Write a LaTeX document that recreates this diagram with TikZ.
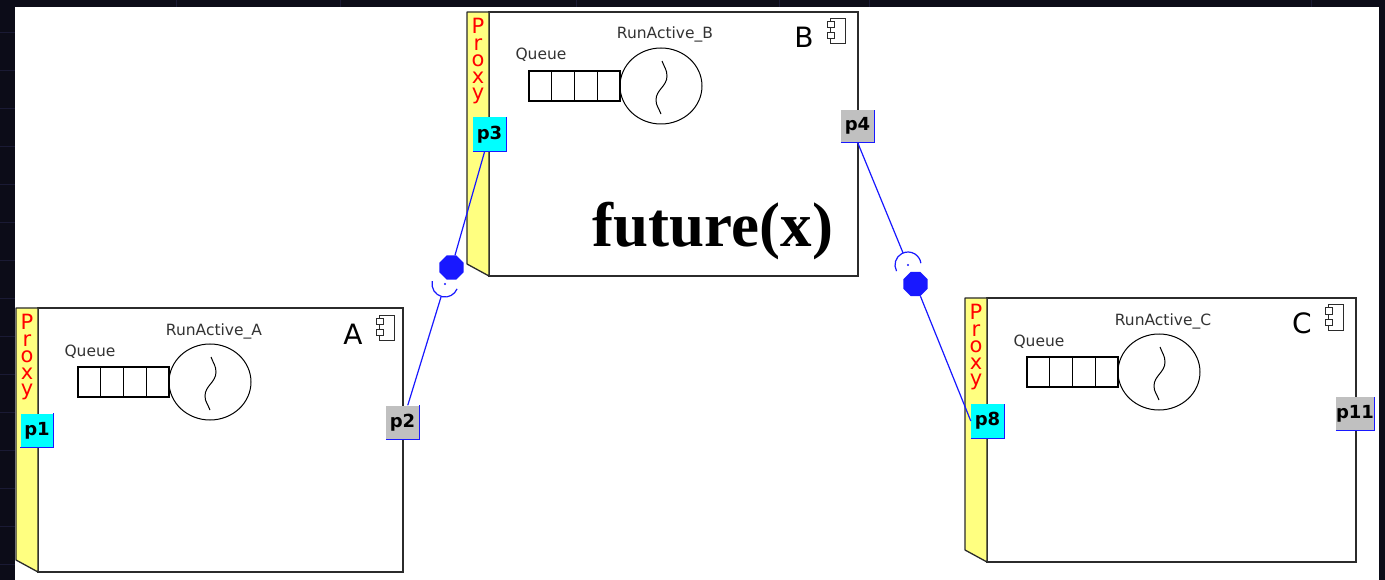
\documentclass[tikz,border=0pt]{standalone}
\usepackage{fontspec}
\usetikzlibrary{shapes.geometric}
\newfontfamily\uisans{DejaVu Sans}
\newfontfamily\bigserif{Liberation Serif}
\definecolor{slate}{HTML}{0C0C18}
\definecolor{gridnavy}{HTML}{1A1A34}
\definecolor{proxyyellow}{HTML}{FFFF80}
\definecolor{portcyan}{HTML}{00FFFF}
\definecolor{portgray}{HTML}{C0C0C0}
\definecolor{wireblue}{HTML}{1818FF}
\definecolor{outline}{HTML}{2B2B2B}
\definecolor{labelgray}{HTML}{333333}

\tikzset{
  compbox/.style={draw=outline, line width=1.6pt, minimum height=264pt, inner sep=0pt, outer sep=0pt, fill=white},
  proxystrip/.style={draw=outline, line width=1.3pt, fill=proxyyellow, line join=round},
  proxytext/.style={text=red, font=\uisans\fontsize{21}{16.5}\selectfont, align=center, inner sep=0pt, anchor=north},
  runlabel/.style={text=labelgray, font=\uisans\fontsize{15.5}{18}\selectfont, inner sep=0pt, anchor=base},
  objletter/.style={text=black, font=\uisans\fontsize{28}{30}\selectfont, inner sep=0pt, anchor=base},
  qline/.style={draw=black, line width=1.2pt},
  threadline/.style={draw=black, line width=1pt},
  iconline/.style={draw=outline, line width=1pt, fill=white},
  port/.style={inner sep=0pt, minimum width=33pt, minimum height=34pt, font=\uisans\bfseries\fontsize{18}{20}\selectfont},
  inport/.style={port, fill=portcyan},
  outport/.style={port, fill=portgray},
  portedge/.style={draw=wireblue, line width=1.2pt},
  wire/.style={draw=wireblue, line width=1.2pt},
  ball/.style={regular polygon, regular polygon sides=8, fill=wireblue, draw=none, minimum size=26pt, inner sep=0pt},
  socket/.style={circle, minimum size=26pt, inner sep=0pt, draw=none},
  socketarc/.style={draw=wireblue, line width=1.2pt},
  % inside of an active object: proxy caption, queue, thread circle, name and icon
  pics/activeobj/.style 2 args={code={
    \node[proxytext] (-proxy) at (-11,-6) {P\\r\\o\\x\\y};
    \node[runlabel] (-run) at (176,-27) {#1};
    \node[runlabel] (-queue) at (52,-48) {Queue};
    \draw[qline] (40,-59) rectangle (131,-89);
    \foreach \cx in {62.75,85.5,108.25} \draw[qline] (\cx,-59) -- (\cx,-89);
    \draw[threadline] (172,-74) ellipse [x radius=41, y radius=38];
    \draw[threadline] (173,-49) to[out=-70,in=90] (178,-64) to[out=-90,in=90] (167,-88) to[out=-90,in=110] (172,-102);
    \node[objletter] (-name) at (315,-36) {#2};
    \draw[iconline] (341,-7) rectangle (356,-32);
    \draw[iconline] (338,-10) rectangle (345,-16);
    \draw[iconline] (338,-21) rectangle (345,-27);
  }}
}

\begin{document}
\begin{tikzpicture}[x=1pt,y=1pt]
  % slide background with its faint grid
  \fill[slate] (0,0) rectangle (1385,-580);
  \useasboundingbox (0,0) rectangle (1385,-580);
  \foreach \gy in {32,70,108,146,184,222,260,298,336,374,412,450,488,526,564}
    \draw[gridnavy, line width=0.8pt] (0,-\gy) -- (15,-\gy);
  \foreach \gx in {176,340,576,779,869,1311}
    \draw[gridnavy, line width=0.8pt] (\gx,0) -- (\gx,-7);
  \fill[white] (15,-7) rectangle (1379,-580);

  % active objects
  \node[compbox, minimum width=365pt] (A) at (220.5,-440) {};
  \node[compbox, minimum width=369pt] (B) at (673.5,-144) {};
  \node[compbox, minimum width=369pt] (C) at (1171.5,-430) {};
  \foreach \c in {A,B,C}
    \draw[proxystrip] (\c.north west) -- ++(-22,0) -- ++(0,-252) -- (\c.south west) -- cycle;

  \pic (A) at (A.north west) {activeobj={RunActive\_A}{A}};
  \pic (B) at (B.north west) {activeobj={RunActive\_B}{B}};
  \pic (C) at (C.north west) {activeobj={RunActive\_C}{C}};

  \node[font=\bigserif\bfseries\fontsize{63}{70}\selectfont, anchor=base, inner sep=0pt] (futurelbl) at (713,-247) {future(x)};

  % ports
  \node[inport] (p1) at (37,-430.5) {p1};
  \node[outport] (p2) at (402.5,-422.5) {p2};
  \node[inport] (p3) at (489.5,-134.5) {p3};
  \node[outport, minimum height=32pt] (p4) at (857.5,-126) {p4};
  \node[inport] (p8) at (987.5,-421) {p8};
  \node[outport, minimum height=33pt] (p11) at (1355,-413.5) {p11};
  \foreach \p in {p1,p2,p3,p4,p8,p11}
    \draw[portedge] (\p.south west) -- (\p.south east) -- (\p.north east);

  % assembly connector between A and B
  \node[ball] (ballL) at (451.5,-267.5) {};
  \node[socket] (sockL) at (445,-284) {};
  \draw[socketarc] (sockL.center) ++(167:13) arc[start angle=167, end angle=338, radius=13];
  \fill[wireblue] (sockL.center) circle[radius=1.2];
  \draw[wire] (p3) -- (ballL);
  \draw[wire] (p2) -- (sockL);

  % assembly connector between B and C
  \node[socket] (sockR) at (908,-265) {};
  \draw[socketarc] (sockR.center) ++(208:13) arc[start angle=208, end angle=8, radius=13];
  \fill[wireblue] (sockR.center) circle[radius=1.2];
  \node[ball] (ballR) at (915.5,-284) {};
  \draw[wire] (p4.south) -- (sockR);
  \draw[wire] (ballR) -- (p8.west);
\end{tikzpicture}
\end{document}
